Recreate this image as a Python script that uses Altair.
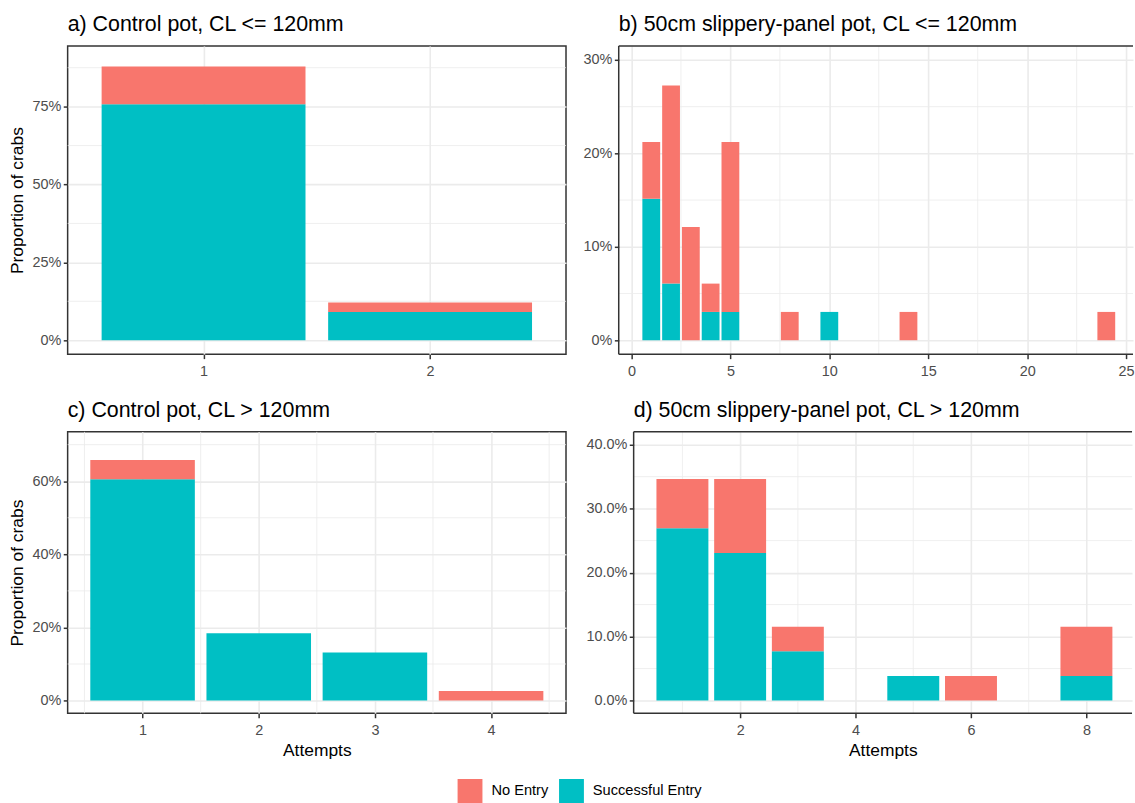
import altair as alt
import pandas as pd

FONT = "Liberation Sans"
STATUS = ["No Entry", "Successful Entry"]
COLORS = ["#F8766D", "#00BFC4"]

# Counts of crabs by number of entry attempts, per pot type and size class
a_attempts = [1, 2]
a_success = [25, 3]
a_no_entry = [4, 1]
a_total = 33

b_attempts = [1, 2, 3, 4, 5, 8, 10, 14, 24]
b_success = [5, 2, 0, 1, 1, 0, 1, 0, 0]
b_no_entry = [2, 7, 4, 1, 6, 1, 0, 1, 1]
b_total = 33

c_attempts = [1, 2, 3, 4]
c_success = [23, 7, 5, 0]
c_no_entry = [2, 0, 0, 1]
c_total = 38

d_attempts = [1, 2, 3, 5, 6, 8]
d_success = [7, 6, 2, 1, 0, 1]
d_no_entry = [2, 3, 1, 0, 1, 2]
d_total = 26

TITLES = [
    "a) Control pot, CL <= 120mm",
    "b) 50cm slippery-panel pot, CL <= 120mm",
    "c) Control pot, CL > 120mm",
    "d) 50cm slippery-panel pot, CL > 120mm",
]

# Axis breaks: labelled (major) and unlabelled (minor) grid positions
a_x_major, a_x_minor = [1, 2], []
a_y_major, a_y_minor = [0, 0.25, 0.5, 0.75], [0.125, 0.375, 0.625, 0.875]
b_x_major, b_x_minor = [0, 5, 10, 15, 20, 25], [2.5, 7.5, 12.5, 17.5, 22.5]
b_y_major, b_y_minor = [0, 0.1, 0.2, 0.3], [0.05, 0.15, 0.25]
c_x_major, c_x_minor = [1, 2, 3, 4], [0.5, 1.5, 2.5, 3.5, 4.5]
c_y_major, c_y_minor = [0, 0.2, 0.4, 0.6], [0.1, 0.3, 0.5, 0.7]
d_x_major, d_x_minor = [2, 4, 6, 8], [1, 3, 5, 7]
d_y_major, d_y_minor = [0, 0.1, 0.2, 0.3, 0.4], [0.05, 0.15, 0.25, 0.35]

BORDER = "#333333"
GRID = "#EBEBEB"


def stacked(attempts, success, no_entry, total):
    rows = []
    for x, s, ne in zip(attempts, success, no_entry):
        if s:
            rows.append({"attempt": x, "status": "Successful Entry", "lo": 0.0, "hi": s / total})
        if ne:
            rows.append({"attempt": x, "status": "No Entry", "lo": s / total, "hi": (s + ne) / total})
    df = pd.DataFrame(rows)
    df["x0"] = df["attempt"] - 0.45
    df["x1"] = df["attempt"] + 0.45
    return df


def panel(df, title, width, height, xdom, xmaj, xmin, ydom, ymaj, ymin, yfmt,
          xtitle, ytitle, open_right):
    xs = alt.Scale(domain=xdom, nice=False, zero=False)
    ys = alt.Scale(domain=ydom, nice=False, zero=False)
    xaxis = alt.Axis(values=xmaj, title=xtitle, format="d")
    yaxis = alt.Axis(values=ymaj, title=ytitle, format=yfmt)
    layers = []
    # thinner unlabelled grid lines between the labelled ones
    if xmin:
        layers.append(
            alt.Chart(pd.DataFrame({"v": xmin})).mark_rule(color=GRID, strokeWidth=0.8)
            .encode(x=alt.X("v:Q", scale=xs, axis=xaxis))
        )
    if ymin:
        layers.append(
            alt.Chart(pd.DataFrame({"v": ymin})).mark_rule(color=GRID, strokeWidth=0.8)
            .encode(y=alt.Y("v:Q", scale=ys, axis=yaxis))
        )
    bars = alt.Chart(df).mark_rect().encode(
        x=alt.X("x0:Q", scale=xs, axis=xaxis),
        x2="x1:Q",
        y=alt.Y("lo:Q", scale=ys, axis=yaxis),
        y2="hi:Q",
        color=alt.Color("status:N", scale=alt.Scale(domain=STATUS, range=COLORS),
                        legend=alt.Legend(title=None, orient="none", direction="horizontal",
                                          legendX=392, legendY=737)),
    )
    layers.append(bars)
    props = dict(title=alt.TitleParams(title, frame="group"), width=width, height=height)
    if not open_right:
        return alt.layer(*layers).properties(
            view=alt.ViewBackground(stroke=BORDER, strokeWidth=1.5), **props
        )
    # frame on top, left and bottom only; the panel runs off the right edge
    one = pd.DataFrame({"k": [0]})
    base = alt.Chart(one).mark_rule(color=BORDER, strokeWidth=1.5)
    top = base.encode(x=alt.value(0), x2=alt.value(width), y=alt.value(0))
    bottom = base.encode(x=alt.value(0), x2=alt.value(width), y=alt.value(height))
    left = base.encode(x=alt.value(0), y=alt.value(0), y2=alt.value(height))
    return alt.layer(*layers, top, bottom, left).properties(
        view=alt.ViewBackground(stroke="transparent"), **props
    )


pa = panel(stacked(a_attempts, a_success, a_no_entry, a_total), TITLES[0], 501, 310,
           [0.4, 2.6], a_x_major, a_x_minor,
           [-0.045, 0.945], a_y_major, a_y_minor, ".0%",
           None, "Proportion of crabs", False)

pb = panel(stacked(b_attempts, b_success, b_no_entry, b_total), TITLES[1], 517, 310,
           [-0.645, 25.35], b_x_major, b_x_minor,
           [-0.015, 0.315], b_y_major, b_y_minor, ".0%",
           None, None, True)

pc = panel(stacked(c_attempts, c_success, c_no_entry, c_total), TITLES[2], 501, 283,
           [0.355, 4.645], c_x_major, c_x_minor,
           [-0.035, 0.735], c_y_major, c_y_minor, ".0%",
           "Attempts", "Proportion of crabs", False)

pd_ = panel(stacked(d_attempts, d_success, d_no_entry, d_total), TITLES[3], 501, 283,
            [0.155, 8.79], d_x_major, d_x_minor,
            [-0.02, 0.42], d_y_major, d_y_minor, ".1%",
            "Attempts", None, True)

chart = alt.vconcat(
    alt.hconcat(pa, pb, spacing=14),
    alt.hconcat(pc, pd_, spacing=17),
    spacing=20,
).properties(
    padding={"left": 8, "top": 11, "right": 0, "bottom": 0},
).configure(
    font=FONT,
).configure_axis(
    domain=False,
    grid=True,
    gridColor=GRID,
    gridWidth=1.6,
    tickColor=BORDER,
    tickSize=4.4,
    tickWidth=1.5,
    labelColor="#4D4D4D",
    labelFontSize=14.5,
    labelFont=FONT,
    titleFont=FONT,
    titleFontSize=17.5,
    titleFontWeight="normal",
    titleColor="#000000",
    titlePadding=5,
).configure_axisX(
    labelPadding=5.5,
).configure_axisY(
    labelPadding=2.5,
).configure_title(
    font=FONT,
    fontSize=21.5,
    fontWeight="normal",
    color="#000000",
    anchor="start",
    offset=10,
).configure_legend(
    symbolType="square",
    symbolSize=625,
    symbolStrokeWidth=0,
    labelFont=FONT,
    labelFontSize=14.7,
    labelColor="#000000",
    labelOffset=9,
    columnPadding=10,
).configure_view(
    stroke=BORDER,
)

chart.save("out.html", embed_options={"renderer": "svg", "actions": False})
